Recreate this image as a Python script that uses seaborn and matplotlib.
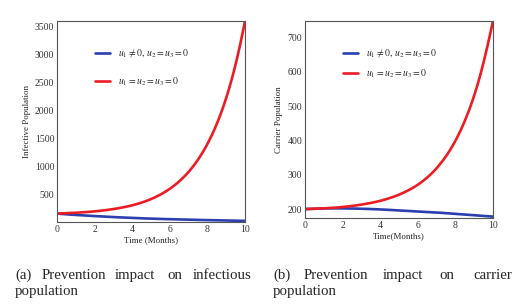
import numpy as np
import pandas as pd
import matplotlib
matplotlib.use("Agg")
import matplotlib.pyplot as plt
from matplotlib.ticker import AutoMinorLocator
import seaborn as sns

# --- DATA ---
months = [0, 1, 2, 3, 4, 5, 6, 7, 8, 9, 10]

infective_control = [150, 126, 106, 88, 73, 60, 50, 41, 34, 27, 20]
infective_none = [150, 165, 190, 231, 298, 409, 593, 895, 1394, 2215, 3590]

carrier_control = [200, 202, 202, 201, 199, 196, 193, 190, 186, 182, 178]
carrier_none = [200, 202, 206, 213, 224, 242, 271, 319, 399, 531, 748]

label_ctrl = r"$u_1 \neq 0,\, u_2 = u_3 = 0$"
label_none = r"$u_1 = u_2 = u_3 = 0$"

sns.set_style("white")
plt.rcParams["font.family"] = ["Liberation Serif", "DejaVu Serif"]
plt.rcParams["mathtext.fontset"] = "stix"


def smooth(x, y, n=20):
    # Catmull-Rom through the read points (in log space) just for drawing
    x = np.asarray(x, float)
    y = np.log(np.asarray(y, float))
    px = np.concatenate([[2 * x[0] - x[1]], x, [2 * x[-1] - x[-2]]])
    py = np.concatenate([[2 * y[0] - y[1]], y, [2 * y[-1] - y[-2]]])
    xs, ys = [], []
    for i in range(1, len(px) - 2):
        t = np.linspace(0, 1, n, endpoint=False)
        for p, out in ((px, xs), (py, ys)):
            p0, p1, p2, p3 = p[i - 1], p[i], p[i + 1], p[i + 2]
            out.append(0.5 * (2 * p1 + (-p0 + p2) * t + (2 * p0 - 5 * p1 + 4 * p2 - p3) * t ** 2
                              + (-p0 + 3 * p1 - 3 * p2 + p3) * t ** 3))
    xs = np.concatenate(xs + [[x[-1]]])
    ys = np.concatenate(ys + [[y[-1]]])
    return xs, np.exp(ys)


fig = plt.figure(figsize=(5.26, 3.07), dpi=100)
ax1 = fig.add_axes([57 / 526, 1 - 222 / 307, 188 / 526, 201 / 307])
ax2 = fig.add_axes([305 / 526, 1 - 218 / 307, 188 / 526, 197 / 307])


def draw(ax, ctrl, none, ylim, yticks, ylabel, xlabel, leg_y, leg_space):
    xc, yc = smooth(months, ctrl)
    xn, yn = smooth(months, none)
    df = pd.concat([
        pd.DataFrame({"t": xc, "v": yc, "case": label_ctrl}),
        pd.DataFrame({"t": xn, "v": yn, "case": label_none}),
    ])
    sns.lineplot(data=df, x="t", y="v", hue="case", ax=ax, lw=1.9,
                 palette={label_ctrl: "#2b3fae", label_none: "#ec1c24"})
    ax.set_xlim(0, 10)
    ax.set_ylim(*ylim)
    ax.set_xticks([0, 2, 4, 6, 8, 10])
    ax.set_yticks(yticks)
    ax.xaxis.set_minor_locator(AutoMinorLocator(2))
    ax.yaxis.set_minor_locator(AutoMinorLocator(5))
    ax.tick_params(which="both", direction="in", labelsize=7, colors="#333333",
                   top=False, right=False, pad=2)
    ax.tick_params(which="major", length=3)
    ax.tick_params(which="minor", length=1.5)
    ax.set_ylabel(ylabel, fontsize=6.4, labelpad=3, color="#222222")
    ax.set_xlabel(xlabel, fontsize=6.4, labelpad=1.5, color="#222222")
    for s in ax.spines.values():
        s.set_color("#555555")
        s.set_linewidth(0.8)
    ax.legend(loc="upper left", bbox_to_anchor=(0.2, leg_y), frameon=False,
              fontsize=7, handlelength=1.6, handletextpad=0.8,
              labelspacing=leg_space, borderaxespad=0, borderpad=0)


draw(ax1, infective_control, infective_none, (0, 3590),
     [500, 1000, 1500, 2000, 2500, 3000, 3500], "Infective Population", "Time (Months)",
     0.866, 1.6)
draw(ax2, carrier_control, carrier_none, (174, 748),
     [200, 300, 400, 500, 600, 700], "Carrier Population", "Time(Months)",
     0.863, 0.75)

# justified two-line captions
cap_a = [("(a)", 15), ("Prevention", 42), ("impact", 115), ("on", 167), ("infectious", 193)]
cap_b = [("(b)", 273), ("Prevention", 304), ("impact", 383), ("on", 439), ("carrier", 473)]
for word, x in cap_a + cap_b:
    fig.text(x / 526, 1 - 279 / 307, word, fontsize=10.7, va="baseline")
for x in (15, 273):
    fig.text(x / 526, 1 - 295 / 307, "population", fontsize=10.7, va="baseline")

fig.savefig("out.png", dpi=100)
